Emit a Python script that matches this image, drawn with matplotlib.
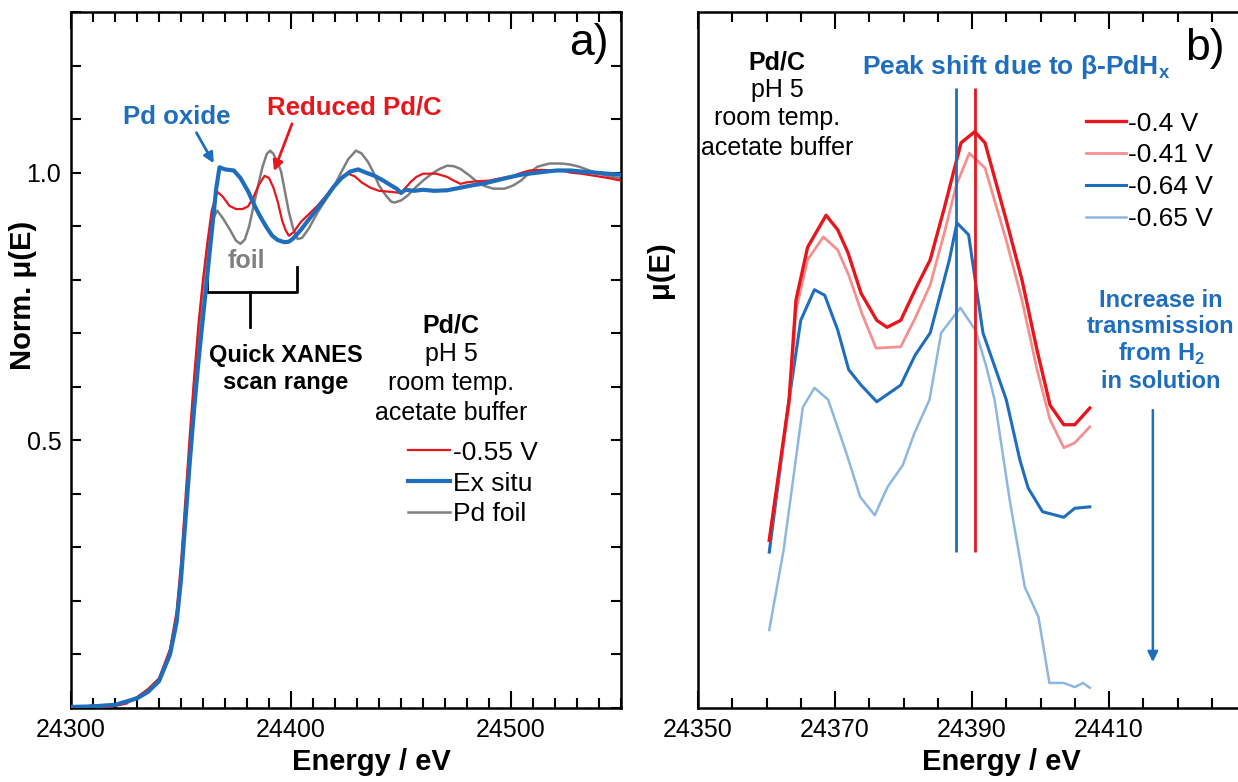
import matplotlib.pyplot as plt
from matplotlib.ticker import MultipleLocator, FixedLocator

plt.rcParams['font.family'] = ['Liberation Sans', 'DejaVu Sans']
plt.rcParams['mathtext.fontset'] = 'custom'
plt.rcParams['mathtext.rm'] = 'Liberation Sans'
plt.rcParams['mathtext.bf'] = 'Liberation Sans:bold'

# ---- panel a) : XANES spectra ----
e_red = [24300, 24305, 24310, 24315, 24320, 24325, 24330, 24335, 24340, 24345, 24348, 24350,
         24352, 24354, 24356, 24358, 24360, 24362, 24364, 24366.5, 24369, 24372, 24375, 24378,
         24380.5, 24383, 24385.5, 24388, 24390, 24392, 24394, 24396, 24397.5, 24399, 24401,
         24404.5, 24408, 24412, 24416, 24419.5, 24423, 24426, 24429, 24432, 24436, 24440,
         24445.5, 24450, 24454.5, 24457, 24460, 24466, 24471, 24474, 24477, 24480, 24485,
         24490, 24496, 24501, 24505, 24508.5, 24514, 24519.5, 24524, 24527, 24532, 24538,
         24544, 24550]
mu_red = [0.003, 0.0, 0.006, 0.0, 0.004, 0.008, 0.02, 0.035, 0.055, 0.11, 0.18, 0.27,
          0.39, 0.51, 0.62, 0.72, 0.80, 0.87, 0.93, 0.964, 0.955, 0.938, 0.932, 0.932,
          0.937, 0.955, 0.978, 0.994, 0.99, 0.972, 0.945, 0.91, 0.893, 0.882, 0.888,
          0.908, 0.922, 0.938, 0.957, 0.976, 0.99, 0.998, 0.993, 0.982, 0.972, 0.966,
          0.964, 0.962, 0.983, 0.992, 0.998, 0.998, 0.992, 0.985, 0.979, 0.982, 0.984,
          0.985, 0.99, 0.994, 1.0, 1.004, 1.005, 1.004, 1.003, 1.0, 0.998, 0.994,
          0.99, 0.985]

e_exsitu = [24300, 24310, 24320, 24330, 24335, 24340, 24345, 24348, 24350, 24352, 24354,
            24356, 24358, 24360, 24362, 24364, 24366, 24367.5, 24370, 24374, 24377, 24380.5,
            24383, 24386, 24389, 24391.5, 24394, 24397, 24399, 24401, 24404.5, 24408, 24412,
            24416, 24419.5, 24423, 24427, 24430.5, 24434, 24438, 24442, 24445.5, 24448,
            24450, 24452, 24456, 24460, 24465, 24471, 24476, 24482, 24488, 24494, 24499,
            24504.5, 24510, 24516, 24521, 24527, 24532, 24538, 24544, 24550]
mu_exsitu = [0.002, 0.003, 0.006, 0.018, 0.03, 0.05, 0.10, 0.16, 0.24, 0.35, 0.46,
             0.56, 0.65, 0.73, 0.81, 0.89, 0.97, 1.01, 1.006, 1.004, 0.99, 0.965,
             0.942, 0.918, 0.897, 0.882, 0.874, 0.870, 0.871, 0.877, 0.893, 0.912, 0.933,
             0.954, 0.974, 0.99, 1.002, 1.006, 1.0, 0.994, 0.985, 0.976, 0.97,
             0.962, 0.968, 0.966, 0.968, 0.966, 0.967, 0.971, 0.976, 0.98, 0.986, 0.991,
             0.996, 0.999, 1.002, 1.004, 1.004, 1.002, 1.0, 0.998, 0.996]

e_foil = [24300, 24310, 24320, 24330, 24335, 24340, 24345, 24348, 24350, 24352, 24354,
          24356, 24358, 24360, 24362, 24364, 24366.5, 24369, 24372, 24375, 24377, 24379,
          24381, 24383, 24385, 24387, 24389, 24390.5, 24392, 24394, 24395.5, 24397, 24399,
          24401, 24403, 24405, 24408, 24412, 24416, 24420, 24423, 24426, 24429.5, 24432,
          24435, 24437.5, 24440, 24443, 24445.5, 24447, 24450, 24453, 24456, 24460, 24464,
          24467.6, 24471, 24474, 24477, 24481, 24484.5, 24488, 24492, 24497, 24501,
          24504.5, 24508, 24512, 24517.5, 24523, 24527, 24531, 24535, 24540, 24545, 24550]
mu_foil = [0.0, 0.001, 0.004, 0.02, 0.035, 0.055, 0.105, 0.17, 0.255, 0.37, 0.49,
           0.6, 0.7, 0.79, 0.86, 0.91, 0.929, 0.915, 0.895, 0.873, 0.867, 0.875,
           0.9, 0.938, 0.975, 1.01, 1.035, 1.041, 1.035, 1.018, 1.002, 0.97, 0.927,
           0.895, 0.876, 0.878, 0.895, 0.925, 0.951, 0.978, 1.002, 1.025, 1.041, 1.036,
           1.02, 1.0, 0.976, 0.958, 0.946, 0.944, 0.948, 0.957, 0.97, 0.985, 0.998,
           1.007, 1.013, 1.012, 1.007, 0.995, 0.983, 0.975, 0.97, 0.97, 0.976,
           0.985, 0.998, 1.011, 1.017, 1.017, 1.015, 1.011, 1.005, 0.998, 0.993, 0.989]

labels_a = ['-0.55 V', 'Ex situ', 'Pd foil']
ticks_a = [24300, 24400, 24500]

# ---- panel b) : quick XANES ----
e_04 = [24360.4, 24363.3, 24364.3, 24366, 24368.7, 24370.4, 24371.9, 24373.8, 24376.1,
        24377.6, 24379.6, 24381.7, 24383.9, 24386, 24388.4, 24390.4, 24391.9, 24395,
        24397.3, 24399.5, 24401.4, 24403.4, 24405, 24407.2]
mu_04 = [0.241, 0.443, 0.586, 0.662, 0.708, 0.687, 0.654, 0.596, 0.557,
         0.547, 0.557, 0.601, 0.644, 0.720, 0.812, 0.828, 0.812, 0.701,
         0.615, 0.514, 0.435, 0.407, 0.407, 0.431]

e_041 = [24360.4, 24363.3, 24364.3, 24366, 24368.3, 24370.4, 24372, 24374, 24376,
         24379.6, 24381.7, 24383.9, 24386, 24387.7, 24389.6, 24391.9, 24395, 24397.3,
         24399.5, 24401.4, 24403.4, 24405, 24407.2]
mu_041 = [0.241, 0.435, 0.572, 0.644, 0.677, 0.658, 0.622, 0.565, 0.517,
          0.519, 0.560, 0.608, 0.684, 0.751, 0.797, 0.776, 0.672, 0.586,
          0.486, 0.414, 0.374, 0.381, 0.404]

e_064 = [24360.4, 24363.3, 24365, 24367, 24368.5, 24370.4, 24372, 24373.8, 24376.1,
         24379.6, 24381.7, 24383.9, 24386.7, 24387.8, 24389.5, 24391.6, 24395, 24397,
         24398.2, 24400.3, 24403.4, 24405, 24407.2]
mu_064 = [0.224, 0.443, 0.557, 0.601, 0.593, 0.543, 0.486, 0.464, 0.440,
          0.464, 0.507, 0.539, 0.644, 0.697, 0.680, 0.539, 0.443, 0.356,
          0.316, 0.282, 0.274, 0.287, 0.289]

e_065 = [24360.4, 24362.5, 24365.3, 24367, 24369, 24371.5, 24373.7, 24375.8, 24377.7,
         24379.9, 24381.6, 24383.8, 24385.5, 24388.3, 24390.5, 24392.1, 24393.3, 24395.5,
         24397.7, 24399.7, 24401.3, 24403.4, 24405, 24406.2, 24407.2]
mu_065 = [0.112, 0.227, 0.432, 0.460, 0.443, 0.371, 0.303, 0.277, 0.318,
          0.349, 0.395, 0.443, 0.539, 0.575, 0.543, 0.490, 0.443, 0.299,
          0.174, 0.131, 0.036, 0.036, 0.030, 0.036, 0.029]

labels_b = ['-0.4 V', '-0.41 V', '-0.64 V', '-0.65 V']
ticks_b = [24350, 24370, 24390, 24410]
peak_lines = [24387.6, 24390.4]

RED = '#e8161c'
LRED = '#f4908e'
BLUE = '#1f6ebd'
LBLUE = '#8db6e0'
GRAY = '#7f7f7f'

fig = plt.figure(figsize=(12.38, 7.82), dpi=100)
axL = fig.add_axes([71/1238, 74/782, 550/1238, 696/782])
axR = fig.add_axes([698/1238, 74/782, 548/1238, 696/782])

# ---------- panel a ----------
axL.plot(e_red, mu_red, color=RED, lw=1.6, label=labels_a[0], zorder=3)
axL.plot(e_foil, mu_foil, color=GRAY, lw=1.8, label=labels_a[2], zorder=2)
axL.plot(e_exsitu, mu_exsitu, color=BLUE, lw=3.0, label=labels_a[1], zorder=4)
axL.set_xlim(24300, 24550)
axL.set_ylim(0, 1.3)

axL.xaxis.set_major_locator(FixedLocator(ticks_a))
axL.xaxis.set_minor_locator(MultipleLocator(10))
axL.yaxis.set_major_locator(FixedLocator([0.5, 1.0]))
axL.yaxis.set_minor_locator(MultipleLocator(0.1))
axL.set_yticklabels(['0.5', '1.0'])
axL.tick_params(which='both', direction='in', top=True, right=True, labelsize=18, width=1.5)
axL.tick_params(which='major', length=12, pad=7)
axL.tick_params(which='minor', length=7)
axL.tick_params(axis='y', which='major', length=7)
for s in axL.spines.values():
    s.set_linewidth(1.8)
axL.set_xlabel('Energy / eV', fontsize=21, fontweight='bold')
axL.xaxis.set_label_coords(0.547, -0.058)
axL.set_ylabel('Norm. μ(E)', fontsize=21, fontweight='bold')
axL.yaxis.set_label_coords(-0.062, 0.593)

h = {l.get_label(): l for l in axL.get_lines()}
axL.legend([h[k] for k in labels_a], labels_a, loc='upper left', bbox_to_anchor=(0.613, 0.384),
           frameon=False, fontsize=19, handlelength=1.6, handletextpad=0.1,
           labelspacing=0.26, borderpad=0, borderaxespad=0)

axL.text(24535.5, 1.242, 'a)', fontsize=32, ha='center', va='center')
axL.text(24348.2, 1.103, 'Pd oxide', color=BLUE, fontsize=18.5, fontweight='bold', ha='center', va='center')
axL.text(24428.6, 1.122, 'Reduced Pd/C', color=RED, fontsize=18.5, fontweight='bold', ha='center', va='center')
axL.annotate('', xy=(24365.5, 1.013), xytext=(24356.4, 1.079),
             arrowprops=dict(arrowstyle='-|>', color=BLUE, lw=2, mutation_scale=15))
axL.annotate('', xy=(24391.8, 0.998), xytext=(24400.9, 1.096),
             arrowprops=dict(arrowstyle='-|>', color=RED, lw=2, mutation_scale=15))
axL.text(24379.5, 0.835, 'foil', color=GRAY, fontsize=18, fontweight='bold', ha='center', va='center')

# bracket marking the quick XANES range
axL.plot([24361.8, 24361.8, 24402.7, 24402.7], [0.824, 0.777, 0.777, 0.824], color='black', lw=2)
axL.plot([24381.4, 24381.4], [0.777, 0.712], color='black', lw=2)
axL.text(0.391, 0.507, 'Quick XANES', transform=axL.transAxes, fontsize=17, fontweight='bold',
         ha='center', va='center')
axL.text(0.391, 0.467, 'scan range', transform=axL.transAxes, fontsize=17, fontweight='bold',
         ha='center', va='center')

cond_a = [('Pd/C', 'bold'), ('pH 5', 'normal'), ('room temp.', 'normal'), ('acetate buffer', 'normal')]
for (txt, w), yy in zip(cond_a, [0.549, 0.509, 0.467, 0.424]):
    axL.text(0.691, yy, txt, transform=axL.transAxes, fontsize=18, fontweight=w,
             ha='center', va='center')

# ---------- panel b ----------
axR.plot(e_065, mu_065, color=LBLUE, lw=1.8, label=labels_b[3])
axR.plot(e_064, mu_064, color=BLUE, lw=2.2, label=labels_b[2])
axR.plot(e_041, mu_041, color=LRED, lw=2.0, label=labels_b[1])
axR.plot(e_04, mu_04, color=RED, lw=2.4, label=labels_b[0])
axR.vlines(peak_lines, 0.224, 0.891, colors=[BLUE, RED], lw=2)
axR.set_xlim(24350, 24430)
axR.set_ylim(0, 1)

axR.xaxis.set_major_locator(FixedLocator(ticks_b))
axR.xaxis.set_minor_locator(MultipleLocator(5))
axR.set_yticks([])
axR.tick_params(which='both', direction='in', top=True, labelsize=18, width=1.5)
axR.tick_params(which='major', length=12, pad=7)
axR.tick_params(which='minor', length=7)
for s in axR.spines.values():
    s.set_linewidth(1.8)
axR.set_xlabel('Energy / eV', fontsize=21, fontweight='bold')
axR.xaxis.set_label_coords(0.553, -0.058)
fig.text(660/1238, 1 - 270/782, 'μ(E)', rotation=90, fontsize=21, fontweight='bold',
         ha='center', va='center')

hb = {l.get_label(): l for l in axR.get_lines()}
axR.legend([hb[k] for k in labels_b], labels_b, loc='upper left', bbox_to_anchor=(0.708, 0.857),
           frameon=False, fontsize=19, handlelength=1.5, handletextpad=0.1,
           labelspacing=0.3, borderpad=0, borderaxespad=0)

axR.text(24424, 0.948, 'b)', fontsize=32, ha='center', va='center')
axR.text(24396.4, 0.921, r'Peak shift due to β-PdH$_\mathbf{x}$', color=BLUE, fontsize=19,
         fontweight='bold', ha='center', va='center')
axR.text(24417.6, 0.527, 'Increase in\ntransmission\nfrom H$_\\mathbf{2}$\nin solution', color=BLUE,
         fontsize=17, fontweight='bold', ha='center', va='center', linespacing=1.15)
axR.annotate('', xy=(24416.4, 0.062), xytext=(24416.4, 0.432),
             arrowprops=dict(arrowstyle='-|>', color=BLUE, lw=1.8, mutation_scale=15))

cond_b = [('Pd/C', 'bold'), ('pH 5', 'normal'), ('room temp.', 'normal'), ('acetate buffer', 'normal')]
for (txt, w), yy in zip(cond_b, [0.927, 0.888, 0.848, 0.805]):
    axR.text(0.144, yy, txt, transform=axR.transAxes, fontsize=18, fontweight=w,
             ha='center', va='center')

fig.savefig('out.png', dpi=100)
